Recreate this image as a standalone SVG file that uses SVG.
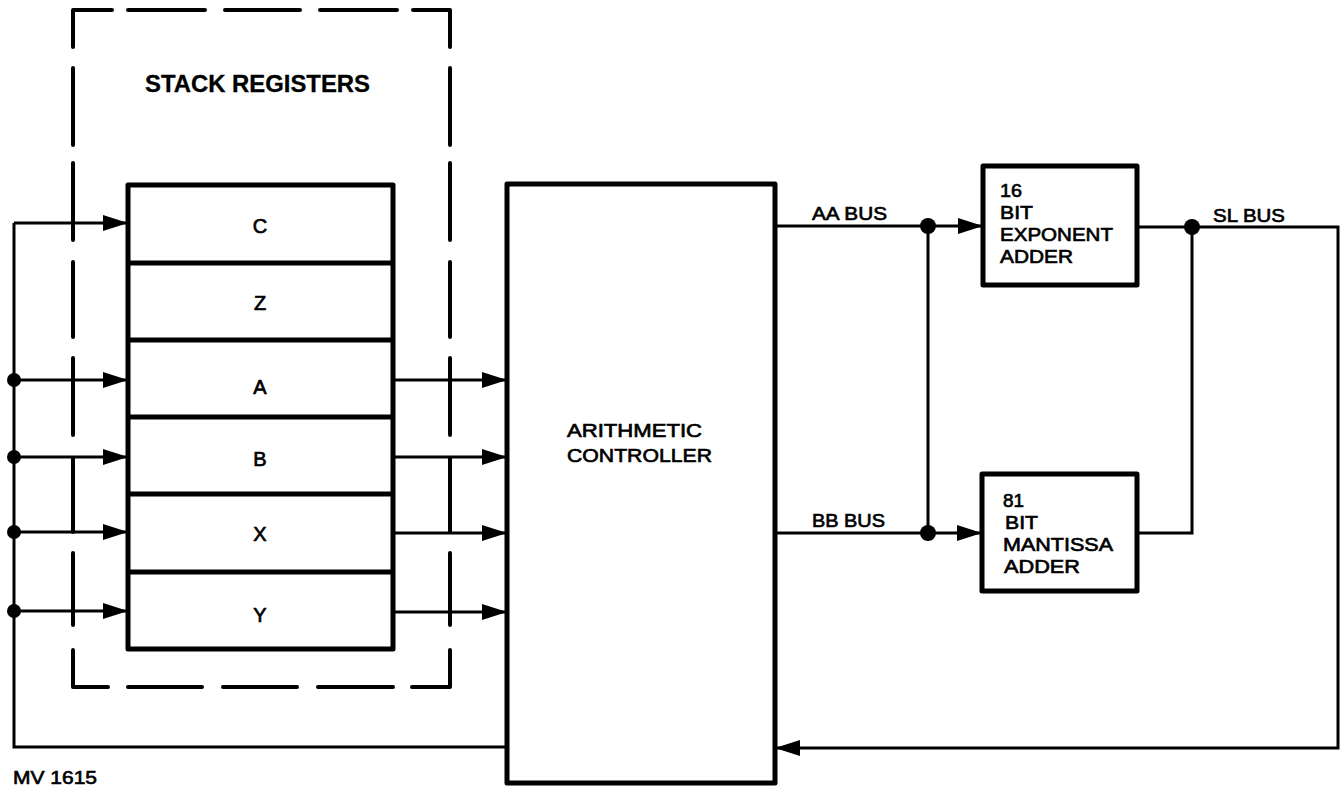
<svg xmlns="http://www.w3.org/2000/svg" width="1343" height="790" viewBox="0 0 1343 790">
<style>
.box{fill:none;stroke:#000;stroke-width:5;stroke-linejoin:round}
.ln{fill:none;stroke:#000;stroke-width:3}
.dash{fill:none;stroke:#000;stroke-width:4;stroke-linecap:round;stroke-linejoin:round}
.t{font-family:"Liberation Sans",Arial,sans-serif;font-size:18.5px;fill:#000;stroke:#000;stroke-width:0.65}
.reg{font-family:"Liberation Sans",Arial,sans-serif;font-size:20px;fill:#000;stroke:#000;stroke-width:0.7;text-anchor:middle}
.title{font-family:"Liberation Sans",Arial,sans-serif;font-size:23px;font-weight:bold;fill:#000;stroke:#000;stroke-width:0.3}
.dot{fill:#000}
</style>
<defs>
<marker id="arr" markerUnits="userSpaceOnUse" markerWidth="26" markerHeight="18" refX="25" refY="8" orient="auto">
<path d="M0,0 L25,8 L0,16 Z" fill="#000"/>
</marker>
</defs>
<rect width="1343" height="790" fill="#fff"/>

<g id="stack-registers-group">
<path class="dash" d="M73,47 L73,10 L112,10 M128,10 L205,10 M225,10 L300,10 M320,10 L397,10 M413,10 L450,10 L450,47"/>
<path class="dash" d="M73,68 L73,145 M73,163 L73,240 M73,262 L73,337 M73,358 L73,435 M73,458 L73,532 M73,553 L73,625 M73,650 L73,687 L108,687"/>
<path class="dash" d="M450,68 L450,145 M450,163 L450,240 M450,262 L450,337 M450,358 L450,435 M450,458 L450,532 M450,553 L450,625 M450,650 L450,687 L412,687"/>
<path class="dash" d="M128,687 L202,687 M223,687 L297,687 M318,687 L393,687"/>
<text class="title" x="145" y="92" textLength="225" lengthAdjust="spacingAndGlyphs">STACK REGISTERS</text>
</g>

<g id="stack">
<rect class="box" x="128" y="185" width="265" height="464"/>
<path class="box" d="M128,263 H393 M128,340 H393 M128,417 H393 M128,494 H393 M128,572 H393"/>
<text class="reg" x="260" y="233">C</text>
<text class="reg" x="260" y="310">Z</text>
<text class="reg" x="260" y="394">A</text>
<text class="reg" x="260" y="466">B</text>
<text class="reg" x="260" y="541">X</text>
<text class="reg" x="260" y="622">Y</text>
</g>

<g id="controller">
<rect class="box" x="507" y="184" width="268" height="599"/>
<text class="t" x="567" y="437" textLength="135" lengthAdjust="spacingAndGlyphs">ARITHMETIC</text>
<text class="t" x="567" y="462" textLength="145" lengthAdjust="spacingAndGlyphs">CONTROLLER</text>
</g>

<g id="exponent-adder">
<rect class="box" x="983" y="166" width="154" height="119"/>
<text class="t" x="1000" y="197" textLength="22" lengthAdjust="spacingAndGlyphs">16</text>
<text class="t" x="1000" y="219" textLength="33" lengthAdjust="spacingAndGlyphs">BIT</text>
<text class="t" x="1000" y="241" textLength="113" lengthAdjust="spacingAndGlyphs">EXPONENT</text>
<text class="t" x="1000" y="263" textLength="73" lengthAdjust="spacingAndGlyphs">ADDER</text>
</g>

<g id="mantissa-adder">
<rect class="box" x="982" y="474" width="155" height="117"/>
<text class="t" x="1003" y="507" textLength="21" lengthAdjust="spacingAndGlyphs">81</text>
<text class="t" x="1005" y="529" textLength="33" lengthAdjust="spacingAndGlyphs">BIT</text>
<text class="t" x="1003" y="551" textLength="110" lengthAdjust="spacingAndGlyphs">MANTISSA</text>
<text class="t" x="1004" y="573" textLength="76" lengthAdjust="spacingAndGlyphs">ADDER</text>
</g>

<g id="connectors">
<path class="ln" d="M14,223 L14,747 L507,747"/>
<path class="ln" d="M14,223 L128,223" marker-end="url(#arr)"/>
<path class="ln" d="M14,380 L128,380" marker-end="url(#arr)"/>
<path class="ln" d="M14,457 L128,457" marker-end="url(#arr)"/>
<path class="ln" d="M14,532 L128,532" marker-end="url(#arr)"/>
<path class="ln" d="M14,611 L128,611" marker-end="url(#arr)"/>
<circle class="dot" cx="14" cy="380" r="7"/>
<circle class="dot" cx="14" cy="457" r="7"/>
<circle class="dot" cx="14" cy="532" r="7"/>
<circle class="dot" cx="14" cy="611" r="7"/>
<path class="ln" d="M393,380 L507,380" marker-end="url(#arr)"/>
<path class="ln" d="M393,457 L507,457" marker-end="url(#arr)"/>
<path class="ln" d="M393,533 L507,533" marker-end="url(#arr)"/>
<path class="ln" d="M393,612 L507,612" marker-end="url(#arr)"/>
<path class="ln" d="M775,226 L983,226" marker-end="url(#arr)"/>
<path class="ln" d="M775,533 L982,533" marker-end="url(#arr)"/>
<path class="ln" d="M928,226 L928,533"/>
<circle class="dot" cx="928" cy="226" r="8"/>
<circle class="dot" cx="928" cy="533" r="8"/>
<path class="ln" d="M1137,227 L1338,227 L1338,748 L775,748" marker-end="url(#arr)"/>
<path class="ln" d="M1137,533 L1192,533 L1192,227"/>
<circle class="dot" cx="1192" cy="227" r="8"/>
</g>

<g id="labels">
<text class="t" x="812" y="220" textLength="75" lengthAdjust="spacingAndGlyphs">AA BUS</text>
<text class="t" x="812" y="527" textLength="73" lengthAdjust="spacingAndGlyphs">BB BUS</text>
<text class="t" x="1213" y="222" textLength="72" lengthAdjust="spacingAndGlyphs">SL BUS</text>
<text class="t" x="13" y="784" textLength="84" lengthAdjust="spacingAndGlyphs">MV 1615</text>
</g>
</svg>
